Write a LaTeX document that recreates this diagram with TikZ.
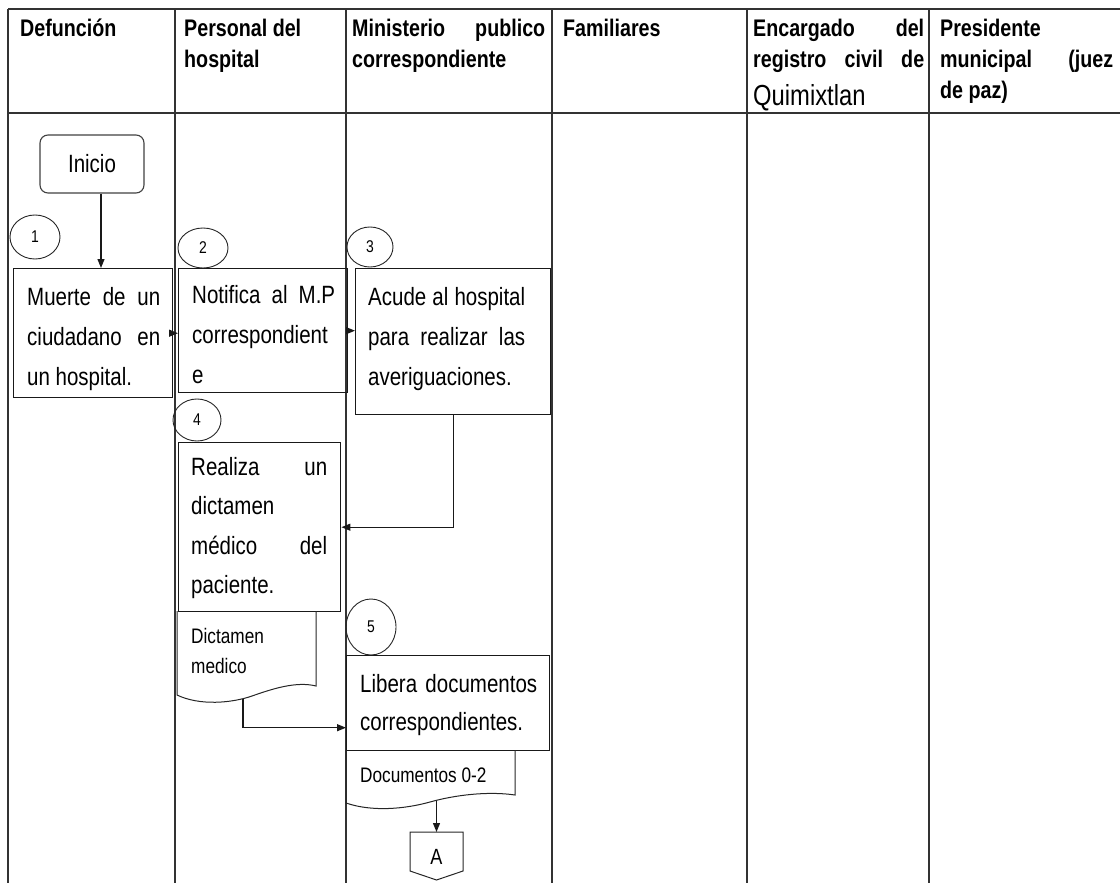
\documentclass[tikz,border=0pt]{standalone}
\usepackage{fontspec}
\setmainfont{Liberation Sans}[FakeStretch=0.82]
\usetikzlibrary{arrows.meta,calc,shapes.geometric}
\newcommand{\jl}[2]{\makebox[#1][s]{#2}}
\begin{document}
\begin{tikzpicture}[x=1pt,y=-1pt,
  gridline/.style={line width=1.5pt, draw=black!80},
  proc/.style={draw=black!90, line width=1.4pt, rectangle, anchor=north west, inner sep=0pt},
  num/.style={draw=black!85, line width=0.9pt, ellipse, inner sep=0pt, font=\fontsize{17}{17}\selectfont},
  docline/.style={draw=black!85, line width=1pt},
  arr/.style={draw=black!90, line width=1.2pt, -{Triangle[length=9pt,width=7pt]}},
  hdr/.style={anchor=base west, inner sep=0pt, font=\fontsize{24}{31}\selectfont\bfseries},
  body/.style={anchor=base west, inner sep=0pt, font=\fontsize{25}{40}\selectfont},
  small/.style={anchor=base west, inner sep=0pt, font=\fontsize{21}{30}\selectfont}]
\useasboundingbox (0,0) rectangle (1120,883);
% grid
\draw[gridline] (8,9) -- (1120,9);
\draw[gridline] (8,113) -- (1120,113);
\foreach \x in {8,175,346,552,747,929} \draw[gridline] (\x,9) -- (\x,883);
% headers
\node[hdr] (h1) at (20,37) {Defunción};
\node[hdr] (h2) at (184,37) {\parbox[t]{150pt}{Personal del\\ hospital}};
\node[hdr] (h3) at (352,37) {\parbox[t]{193pt}{\jl{193pt}{Ministerio publico}\\ correspondiente}};
\node[hdr] (h4) at (563,37) {Familiares};
\node[hdr] (h5) at (753,37) {\parbox[t]{171pt}{\jl{171pt}{Encargado del}\\ \jl{171pt}{registro civil de}}};
\node[anchor=base west, inner sep=0pt, font=\fontsize{29}{31}\selectfont] (h5b) at (753,106) {Quimixtlan};
\node[hdr] (h6) at (940,37) {\parbox[t]{173pt}{Presidente\\ \jl{173pt}{municipal (juez}\\ de paz)}};
% start
\node[draw=black!75, line width=1.1pt, rounded corners=8pt, minimum width=104pt, minimum height=58pt, inner sep=0pt, font=\fontsize{25}{25}\selectfont] (inicio) at (92,164) {Inicio};
% process boxes
\node[proc, minimum width=159pt, minimum height=129pt] (b1) at (13,268) {};
\node[proc, minimum width=169pt, minimum height=124pt] (b2) at (178,268) {};
\node[proc, minimum width=195pt, minimum height=146pt] (b3) at (355,268) {};
\node[proc, minimum width=162pt, minimum height=169pt] (b4) at (178,442) {};
\node[proc, minimum width=203pt, minimum height=95pt] (b5) at (346,655) {};
% box texts
\node[body] (t1) at (27,305) {\parbox[t]{133pt}{\jl{133pt}{Muerte de un}\\ \jl{133pt}{ciudadano en}\\ un hospital.}};
\node[body] (t2) at (192,303) {\parbox[t]{143pt}{\jl{143pt}{Notifica al M.P}\\ correspondient\\ e}};
\node[body] (t3) at (368,305) {\parbox[t]{157pt}{\jl{157pt}{Acude al hospital}\\ \jl{157pt}{para realizar las}\\ averiguaciones.}};
\node[body, font=\fontsize{25}{39.5}\selectfont] (t4) at (191,475) {\parbox[t]{136pt}{\jl{136pt}{Realiza un}\\ dictamen\\ \jl{136pt}{médico del}\\ paciente.}};
\node[body, font=\fontsize{25}{38}\selectfont] (t5) at (360,692) {\parbox[t]{177pt}{\jl{177pt}{Libera documentos}\\ correspondientes.}};
% number circles
\node[num, minimum width=50pt, minimum height=44pt] (n1) at (35,237) {1};
\node[num, minimum width=50pt, minimum height=40pt] (n2) at (203,248) {2};
\node[num, minimum width=46pt, minimum height=40pt] (n3) at (370,247) {3};
\node[num, minimum width=48pt, minimum height=42pt] (n4) at (197,420) {4};
\node[num, minimum width=50pt, minimum height=56pt] (n5) at (371,627) {5};
% documents
\draw[docline] (177,611) -- (177,695) .. controls (200,706) and (232,703) .. (252,696) .. controls (272,689) and (296,681) .. (316,686) -- (316,611);
\node[small] (td1) at (191,643) {\parbox[t]{110pt}{Dictamen\\ medico}};
\coordinate (d1out) at (243,699);
\draw[docline] (346,750) -- (346,803) .. controls (372,812) and (405,809) .. (430,802) .. controls (455,795) and (488,791) .. (515,795) -- (515,750);
\node[small] (td2) at (360,782) {Documentos 0-2};
\coordinate (d2out) at (436.5,801);
% off-page connector
\draw[docline] (410,832) -- (463,832) -- (463,871) -- (436.5,880) -- (410,871) -- cycle;
\node[inner sep=0pt, font=\fontsize{22}{22}\selectfont] (A) at (436.5,857) {A};
\coordinate (Atop) at (436.5,832);
% connectors
\draw[arr] ([xshift=9pt]inicio.south) -- ([xshift=9pt]inicio.south |- b1.north);
\draw[arr] (b1.east) -- (b1.east -| b2.west);
\draw[arr] (b2.east) -- (b2.east -| b3.west);
\draw[arr] (b3.south) |- (b4.east);
\draw[arr] (d1out) |- ([yshift=-24.5pt]b5.west);
\draw[arr] (d2out) -- (Atop);
\end{tikzpicture}
\end{document}
